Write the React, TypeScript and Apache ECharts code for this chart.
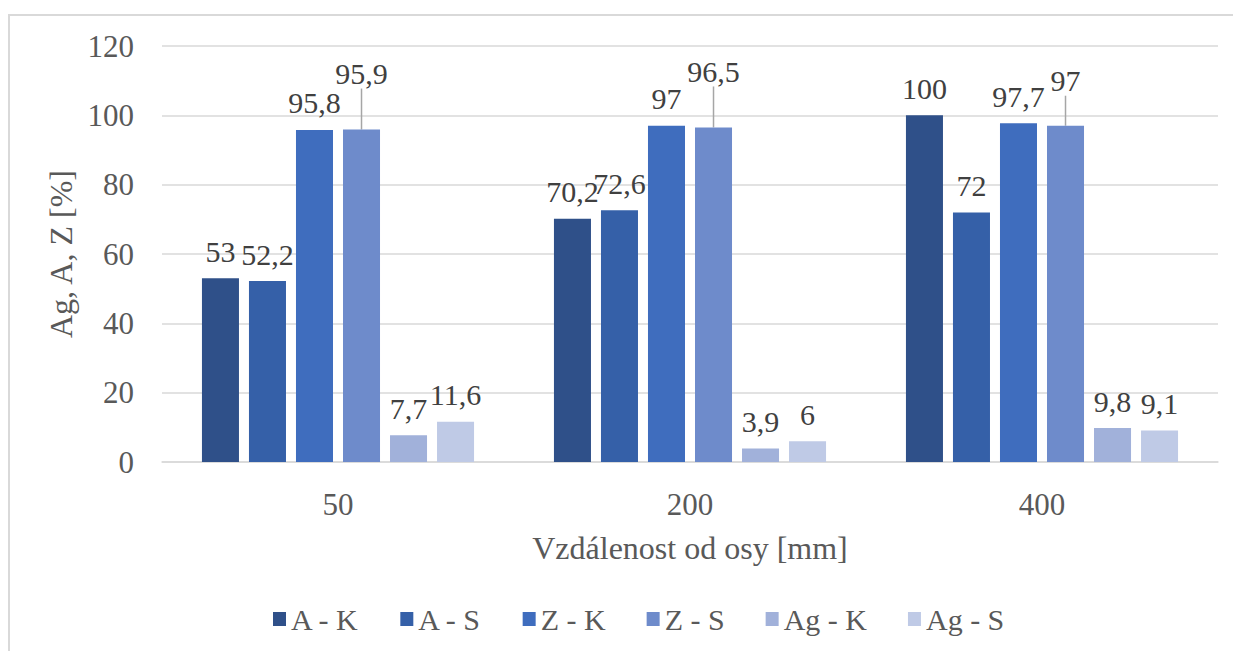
import React, { useEffect, useRef } from "react";
import * as echarts from "echarts";

const categories = ["50", "200", "400"];
const seriesNames = ["A - K", "A - S", "Z - K", "Z - S", "Ag - K", "Ag - S"];
const aK = [53, 70.2, 100];
const aS = [52.2, 72.6, 72];
const zK = [95.8, 97, 97.7];
const zS = [95.9, 96.5, 97];
const agK = [7.7, 3.9, 9.8];
const agS = [11.6, 6, 9.1];
const yTicks = [0, 20, 40, 60, 80, 100, 120];
const colors = ["#2F5089", "#3560A8", "#3F6DBE", "#6E8BCB", "#A1B1DA", "#BFCAE6"];
const zsLabelShift = [-29, -29, -18];

const FONT = "'Liberation Serif', 'Times New Roman', serif";

export default function App() {
  const ref = useRef<HTMLDivElement>(null);
  useEffect(() => {
    const chart = echarts.init(ref.current!, null, { renderer: "svg" });
    const values = [aK, aS, zK, zS, agK, agS];
    const fmt = (p: any) => String(p.value).replace(".", ",");
    const series = values.map((v, i) => {
      const s: any = {
        name: seriesNames[i],
        type: "bar",
        data: v,
        barGap: "27%",
        barCategoryGap: "22.7%",
        itemStyle: { color: colors[i] },
        label: {
          show: true,
          position: "top",
          distance: 12,
          formatter: fmt,
          color: "#404040",
          fontFamily: FONT,
          fontSize: 30,
        },
      };
      if (i === 3) {
        s.labelLayout = (p: any) => ({ dy: zsLabelShift[p.dataIndex] });
        s.labelLine = { show: true, lineStyle: { color: "#A6A6A6", width: 1.5 } };
      }
      return s;
    });
    chart.setOption({
      animation: false,
      color: colors,
      graphic: [
        {
          type: "rect",
          shape: { x: 9, y: 15, width: 1300, height: 700 },
          style: { fill: "none", stroke: "#D9D9D9", lineWidth: 2 },
          silent: true,
        },
      ],
      grid: { left: 162, right: 15, top: 46, bottom: 189, containLabel: false },
      legend: {
        data: seriesNames,
        bottom: 12,
        left: 268,
        itemWidth: 13,
        itemHeight: 14,
        itemGap: 41,
        icon: "rect",
        textStyle: { color: "#595959", fontFamily: FONT, fontSize: 30 },
      },
      xAxis: {
        type: "category",
        data: categories,
        name: "Vzdálenost od osy [mm]",
        nameLocation: "middle",
        nameGap: 70,
        nameTextStyle: { color: "#595959", fontFamily: FONT, fontSize: 32, verticalAlign: "top" },
        axisLine: { show: true, lineStyle: { color: "#D9D9D9", width: 1.5 } },
        axisTick: { show: false },
        axisLabel: { color: "#595959", fontFamily: FONT, fontSize: 31, margin: 27 },
      },
      yAxis: {
        type: "value",
        min: yTicks[0],
        max: yTicks[yTicks.length - 1],
        interval: 20,
        name: "Ag, A, Z [%]",
        nameLocation: "middle",
        nameGap: 81,
        nameRotate: 90,
        nameTextStyle: { color: "#595959", fontFamily: FONT, fontSize: 32 },
        axisLine: { show: false },
        axisTick: { show: false },
        axisLabel: { color: "#595959", fontFamily: FONT, fontSize: 31, margin: 28 },
        splitLine: { lineStyle: { color: "#D9D9D9", width: 1.5 } },
      },
      series,
    });
    return () => chart.dispose();
  }, []);
  return (
    <div
      ref={ref}
      style={{ position: "absolute", left: 0, top: 0, width: 1233, height: 651, background: "#fff" }}
    />
  );
}
